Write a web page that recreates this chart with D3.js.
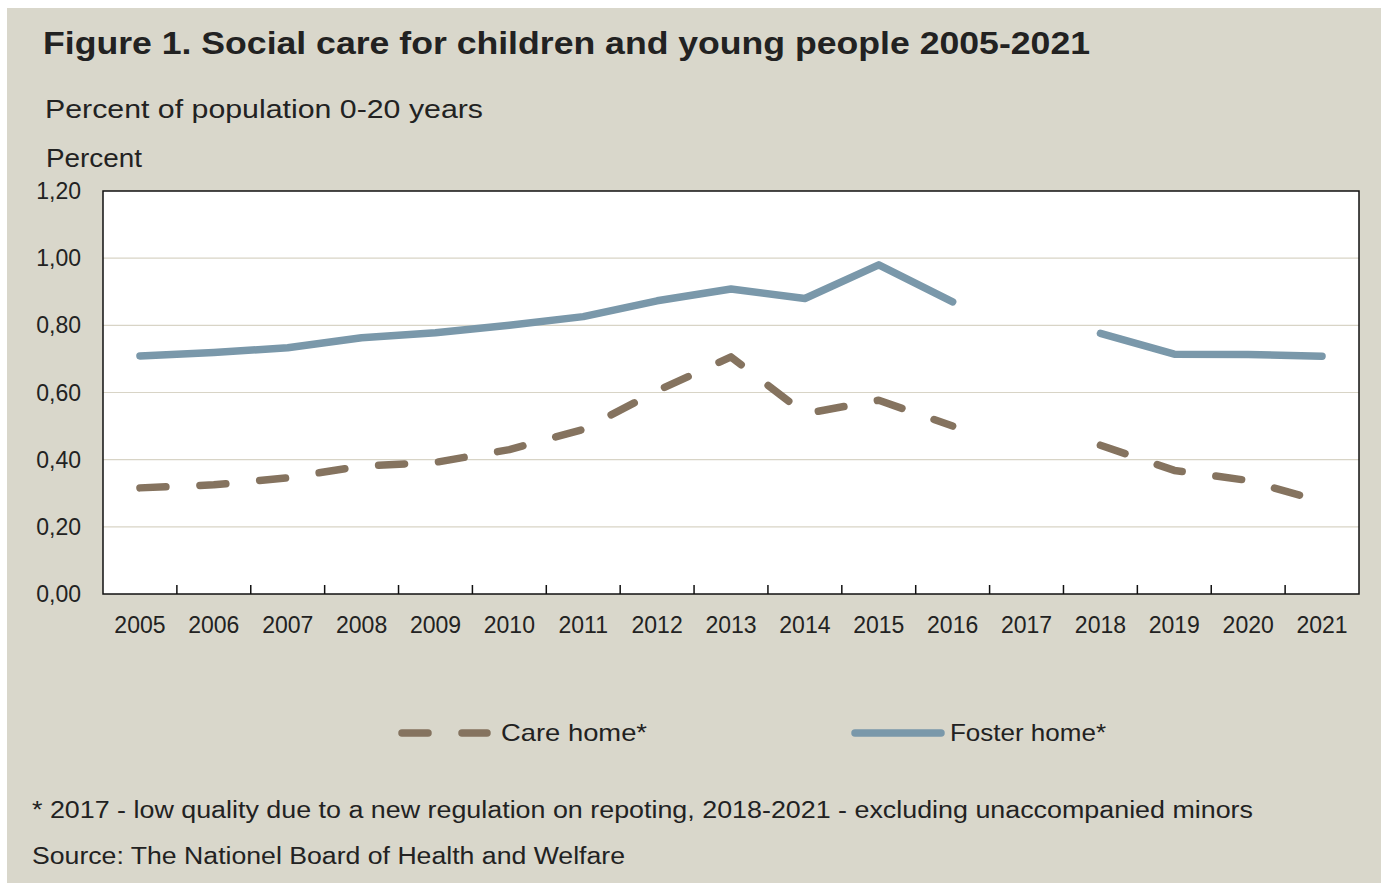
<!DOCTYPE html>
<html>
<head>
<meta charset="utf-8">
<script src="https://cdn.jsdelivr.net/npm/d3@7"></script>
<style>
  body { margin: 0; background: #fff; }
  text { font-family: "Liberation Sans", Arial, sans-serif; fill: #222; }
</style>
</head>
<body>
<script>
// data (2017 missing)
const years = ["2005","2006","2007","2008","2009","2010","2011","2012","2013","2014","2015","2016","2017","2018","2019","2020","2021"];
const careHome   = [0.316,0.325,0.346,0.381,0.392,0.43,0.49,0.605,0.706,0.537,0.577,0.50,null,0.443,0.368,0.338,0.275];
const fosterHome = [0.709,0.719,0.733,0.763,0.778,0.80,0.826,0.873,0.908,0.88,0.98,0.87,null,0.776,0.714,0.713,0.708];
const yTicks = [0, 0.2, 0.4, 0.6, 0.8, 1.0, 1.2];

const W = 1381, H = 883;
const m = {left: 103, right: 1359, top: 191, bottom: 594};

const svg = d3.select("body").append("svg").attr("width", W).attr("height", H);

// beige background with a thin white edge at top/left
svg.append("rect").attr("x", 7).attr("y", 8).attr("width", W - 7).attr("height", H - 8).attr("fill", "#d9d7cb");

const x = d3.scaleBand().domain(years).range([m.left, m.right]);
const y = d3.scaleLinear().domain([0, 1.2]).range([m.bottom, m.top]);
const fmt = d3.formatLocale({decimal: ",", thousands: " ", grouping: [3], currency: ["", ""]}).format(".2f");

/* ** PLOT AREA ** */
svg.append("rect").attr("x", m.left).attr("y", m.top).attr("width", m.right - m.left).attr("height", m.bottom - m.top).attr("fill", "#fff");

// gridlines
svg.append("g").selectAll("line").data(yTicks.filter(d => d > 0 && d < 1.2)).enter().append("line")
  .attr("x1", m.left).attr("x2", m.right).attr("y1", d => y(d)).attr("y2", d => y(d))
  .attr("stroke", "#d8d4c6").attr("stroke-width", 1.2);

// y labels
svg.append("g").selectAll("text").data(yTicks).enter().append("text")
  .attr("x", 81).attr("y", d => y(d) + 8).attr("text-anchor", "end")
  .attr("font-size", 23).text(d => fmt(d));

// x axis: inner ticks between categories, labels centred
const xAxis = d3.axisBottom(x).tickSize(0).tickPadding(0);
const gx = svg.append("g").attr("transform", `translate(0,${m.bottom})`).call(xAxis);
gx.select(".domain").remove();
gx.selectAll("text").attr("dy", null).attr("y", 39).attr("font-size", 23).attr("fill", "#222")
  .attr("font-family", "Liberation Sans, Arial, sans-serif");

svg.append("g").selectAll("line").data(years.slice(1)).enter().append("line")
  .attr("x1", d => x(d)).attr("x2", d => x(d)).attr("y1", m.bottom).attr("y2", m.bottom - 9)
  .attr("stroke", "#111").attr("stroke-width", 1.5);

/* ** LINES ** */
const line = d3.line().defined(d => d.v != null).x(d => x(d.year) + x.bandwidth() / 2).y(d => y(d.v));

svg.append("path").datum(years.map((yr, i) => ({year: yr, v: careHome[i]})))
  .attr("d", line).attr("fill", "none").attr("stroke", "#85735f").attr("stroke-width", 7.5)
  .attr("stroke-linecap", "round").attr("stroke-linejoin", "round").attr("stroke-dasharray", "26,34");

svg.append("path").datum(years.map((yr, i) => ({year: yr, v: fosterHome[i]})))
  .attr("d", line).attr("fill", "none").attr("stroke", "#7a98aa").attr("stroke-width", 7.5)
  .attr("stroke-linecap", "round").attr("stroke-linejoin", "round");

// plot border on top
svg.append("rect").attr("x", m.left).attr("y", m.top).attr("width", m.right - m.left).attr("height", m.bottom - m.top)
  .attr("fill", "none").attr("stroke", "#111").attr("stroke-width", 1.5);

/* ** TEXTS ** */
svg.append("text").attr("x", 43).attr("y", 54).attr("font-size", 32).attr("font-weight", "bold")
  .attr("textLength", 1047).attr("lengthAdjust", "spacingAndGlyphs").attr("fill", "#111")
  .text("Figure 1. Social care for children and young people 2005-2021");
svg.append("text").attr("x", 45).attr("y", 118).attr("font-size", 25)
  .attr("textLength", 438).attr("lengthAdjust", "spacingAndGlyphs")
  .text("Percent of population 0-20 years");
svg.append("text").attr("x", 46).attr("y", 167).attr("font-size", 25)
  .attr("textLength", 96).attr("lengthAdjust", "spacingAndGlyphs").text("Percent");

/* ** LEGEND ** */
const leg = svg.append("g");
leg.append("line").attr("x1", 402).attr("x2", 487).attr("y1", 733).attr("y2", 733)
  .attr("stroke", "#85735f").attr("stroke-width", 7.5).attr("stroke-linecap", "round").attr("stroke-dasharray", "26,34");
leg.append("text").attr("x", 501).attr("y", 741).attr("font-size", 24)
  .attr("textLength", 146).attr("lengthAdjust", "spacingAndGlyphs").text("Care home*");
leg.append("line").attr("x1", 855).attr("x2", 941).attr("y1", 733).attr("y2", 733)
  .attr("stroke", "#7a98aa").attr("stroke-width", 7.5).attr("stroke-linecap", "round");
leg.append("text").attr("x", 950).attr("y", 741).attr("font-size", 24)
  .attr("textLength", 156).attr("lengthAdjust", "spacingAndGlyphs").text("Foster home*");

/* ** FOOTNOTES ** */
svg.append("text").attr("x", 32).attr("y", 818).attr("font-size", 23)
  .attr("textLength", 1221).attr("lengthAdjust", "spacingAndGlyphs")
  .text("* 2017 - low quality due to a new regulation on repoting, 2018-2021 - excluding unaccompanied minors");
svg.append("text").attr("x", 32).attr("y", 864).attr("font-size", 23)
  .attr("textLength", 593).attr("lengthAdjust", "spacingAndGlyphs")
  .text("Source: The Nationel Board of Health and Welfare");
</script>
</body>
</html>
